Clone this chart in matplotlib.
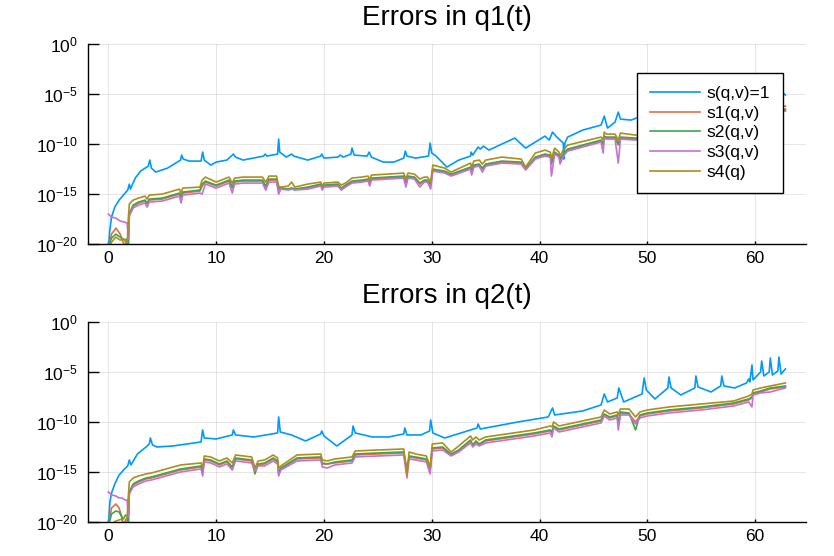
import numpy as np
import matplotlib
matplotlib.use("Agg")
import matplotlib.pyplot as plt

plt.rcParams['font.family'] = ['Liberation Sans', 'DejaVu Sans']
plt.rcParams['mathtext.fontset'] = 'custom'
plt.rcParams['mathtext.rm'] = 'Liberation Sans'
plt.rcParams['mathtext.it'] = 'Liberation Sans:italic'

labels = ["s(q,v)=1", "s1(q,v)", "s2(q,v)", "s3(q,v)", "s4(q)"]
colors = ["#009AFA", "#E36F47", "#3EA44E", "#C371D2", "#AC8E18"]

# ---- q1(t): values are log10 of the error ----
t_q1_blue = [0.0, 0.15, 0.3, 0.6, 1.0, 1.4, 1.8, 1.95, 2.05, 2.5, 3.0, 3.7, 3.85, 4.0, 4.4,
             5.5, 6.7, 6.8, 6.95, 7.5, 8.6, 8.75, 8.9, 9.5, 10.0, 11.0, 11.6, 11.8, 12.5,
             14.4, 14.55, 14.7, 15.7, 15.8, 15.9, 16.5, 17.0, 17.2, 18.5, 19.7, 19.8, 20.0,
             21.3, 21.5, 21.8, 22.5, 22.6, 22.8, 24.0, 24.2, 24.4, 25.5, 26.5, 27.4, 27.55,
             27.7, 28.5, 29.7, 29.85, 30.0, 30.4, 31.4, 32.5, 33.6, 33.65, 33.8, 34.3, 34.5,
             34.8, 35.3, 37.7, 38.7, 40.5, 40.9, 41.2, 41.6, 42.2, 42.25, 42.35, 42.6, 44.0,
             45.7, 46.0, 46.3, 47.0, 47.3, 47.5, 48.5, 49.2, 51.0, 54.0, 57.0, 60.0, 62.2,
             62.5, 62.8]
e_q1_blue = [-20.5, -18.5, -17.3, -16.3, -15.6, -15.1, -14.6, -14.0, -14.5, -13.4, -12.7, -12.2,
             -11.6, -12.4, -12.8, -12.4, -11.6, -11.1, -11.5, -11.7, -11.7, -10.8, -11.6, -12.1,
             -11.8, -11.6, -11.0, -11.3, -11.6, -11.2, -11.0, -11.2, -11.0, -9.5, -10.8, -11.3,
             -11.0, -11.2, -11.6, -11.2, -11.0, -11.4, -11.3, -11.1, -11.3, -11.0, -10.4, -11.1,
             -11.2, -10.8, -11.3, -11.8, -11.8, -11.4, -10.7, -11.2, -11.4, -11.2, -9.9, -10.9,
             -11.2, -12.3, -11.6, -11.2, -10.8, -11.1, -10.3, -10.5, -10.2, -10.6, -9.4, -10.4,
             -9.2, -9.6, -8.8, -9.3, -9.9, -11.5, -9.9, -9.3, -8.6, -8.1, -7.2, -8.4, -7.8,
             -6.8, -7.5, -7.6, -7.3, -6.8, -6.3, -5.9, -5.4, -5.3, -4.8, -5.1]

t_q1 = [0.0, 0.3, 0.7, 1.1, 1.5, 1.75, 1.85, 1.95,
        2.3, 2.8, 3.4, 3.6, 3.8,
        5.0, 6.6, 6.75, 6.9,
        8.5, 8.7, 9.0, 10.0,
        11.2, 11.5, 11.7, 12.5,
        14.3, 14.6, 14.9, 15.6,
        15.8, 16.0, 16.7, 17.0, 17.3,
        18.5, 19.7, 19.85, 20.0,
        21.3, 21.6, 22.0, 22.6,
        23.5, 24.1, 24.25, 24.4,
        27.4, 27.6, 27.8, 28.4,
        28.9, 29.3, 29.6, 29.9,
        30.1, 31.2, 31.8,
        33.6, 33.7, 33.9, 34.4, 34.7, 35.0,
        36.5, 38.3, 38.7, 39.6, 40.5,
        41.0, 41.1, 41.4, 41.8, 41.9, 42.2, 42.6,
        45.7, 45.9, 46.0, 46.2,
        47.0, 47.3, 47.5, 48.9,
        52.0, 55.0, 58.0, 60.0, 62.8]
e_q1_s1 = [-20.5, -19.0, -18.4, -19.0, -20.2, -19.6, -20.3, -17.0,
           -16.2, -15.9, -15.7, -16.0, -15.6,
           -15.5, -15.0, -15.3, -14.9,
           -14.7, -14.2, -13.8, -14.2,
           -13.7, -14.4, -13.8, -13.7,
           -13.7, -14.3, -13.6, -13.6,
           -14.6, -14.4, -14.5, -14.4, -14.5,
           -14.4, -14.1, -14.4, -14.2,
           -14.1, -14.5, -14.2, -13.8,
           -13.7, -13.6, -14.0, -13.5,
           -13.3, -13.9, -13.3, -13.4,
           -14.0, -13.7, -13.7, -14.1,
           -12.6, -12.8, -13.1,
           -12.4, -12.8, -12.2, -12.1, -12.5, -12.1,
           -11.8, -11.9, -12.5, -11.4, -11.1,
           -11.2, -12.0, -10.9, -11.2, -11.6, -11.1, -10.6,
           -9.7, -10.1, -9.3, -9.4,
           -9.4, -10.1, -9.4, -9.5,
           -8.7, -8.0, -7.4, -7.2, -6.6]
e_q1_s2 = [-20.3, -19.4, -19.0, -19.3, -19.6, -19.5, -20.5, -17.0,
           -16.1, -15.8, -15.6, -15.9, -15.5,
           -15.4, -14.9, -15.3, -14.8,
           -14.6, -14.0, -13.7, -14.1,
           -13.6, -14.3, -13.7, -13.6,
           -13.6, -14.2, -13.5, -13.5,
           -14.4, -14.4, -14.5, -14.4, -14.5,
           -14.3, -14.0, -14.3, -14.1,
           -14.0, -14.4, -14.1, -13.7,
           -13.6, -13.5, -13.9, -13.4,
           -13.2, -13.8, -13.2, -13.3,
           -13.9, -13.6, -13.6, -14.0,
           -12.5, -12.7, -13.0,
           -12.3, -12.7, -12.1, -12.0, -12.4, -12.0,
           -11.7, -11.8, -12.5, -11.3, -11.0,
           -11.1, -11.9, -10.8, -11.1, -11.5, -11.0, -10.5,
           -9.6, -10.0, -9.2, -9.3,
           -9.3, -10.0, -9.3, -9.4,
           -8.6, -7.9, -7.3, -7.1, -6.5]
e_q1_s3 = [-17.0, -17.3, -17.4, -17.7, -17.8, -17.9, -19.5, -17.2,
           -16.4, -16.1, -15.9, -16.3, -15.8,
           -15.7, -15.2, -15.9, -15.1,
           -14.9, -15.0, -14.0, -14.4,
           -13.9, -14.9, -14.0, -13.9,
           -13.9, -14.6, -13.8, -13.8,
           -15.0, -14.5, -14.6, -14.5, -14.6,
           -14.5, -14.2, -14.6, -14.3,
           -14.2, -14.6, -14.3, -13.9,
           -13.8, -13.7, -14.2, -13.6,
           -13.4, -14.3, -13.4, -13.5,
           -14.3, -13.8, -13.8, -14.5,
           -12.7, -12.9, -13.2,
           -12.5, -13.1, -12.3, -12.2, -12.8, -12.2,
           -11.9, -12.0, -12.6, -11.5, -11.2,
           -11.3, -13.2, -11.0, -11.3, -12.0, -11.2, -10.7,
           -9.8, -10.9, -9.4, -9.5,
           -9.5, -11.9, -9.5, -9.6,
           -8.8, -8.1, -7.5, -7.3, -6.7]
e_q1_s4 = [-20.5, -19.8, -19.3, -19.6, -19.5, -20.3, -17.5, -16.0,
           -15.6, -15.4, -15.2, -15.5, -15.1,
           -15.0, -14.5, -14.9, -14.4,
           -14.3, -13.6, -13.3, -13.8,
           -13.3, -13.9, -13.4, -13.3,
           -13.3, -13.8, -13.2, -13.2,
           -14.2, -14.3, -14.2, -13.8, -14.3,
           -14.0, -13.8, -14.2, -13.9,
           -13.8, -14.1, -13.9, -13.4,
           -13.3, -13.2, -13.6, -13.1,
           -12.9, -13.5, -12.9, -13.0,
           -13.5, -13.3, -13.3, -13.8,
           -12.1, -12.4, -12.8,
           -11.9, -12.3, -11.7, -11.6, -12.0, -11.6,
           -11.3, -11.5, -12.3, -10.9, -10.6,
           -10.8, -11.5, -10.4, -10.8, -11.2, -10.6, -10.1,
           -9.3, -9.6, -8.8, -9.0,
           -9.0, -9.6, -8.9, -9.1,
           -8.3, -7.6, -7.0, -6.8, -6.2]

# ---- q2(t) ----
t_q2_blue = [0.0, 0.15, 0.3, 0.6, 1.0, 1.5, 1.8, 1.95, 2.1, 2.7, 3.5, 3.8, 3.9, 4.1, 4.5,
             6.0, 8.6, 8.75, 8.9, 10.0, 11.5, 11.6, 11.8, 13.5, 15.7, 15.8, 15.95, 17.0,
             18.3, 19.7, 19.8, 20.0, 21.2, 22.6, 22.7, 22.9, 24.5, 26.0, 27.4, 27.5, 27.7,
             29.0, 29.8, 29.9, 30.1, 31.2, 33.0, 34.2, 34.3, 34.5, 38.0, 40.8, 41.2, 41.4,
             44.0, 45.7, 46.0, 46.3, 47.2, 47.35, 47.8, 49.5, 49.7, 49.9, 50.7, 51.9, 52.0,
             52.2, 53.1, 54.4, 54.5, 54.7, 55.9, 56.8, 56.9, 57.1, 58.1, 59.2, 59.4, 59.5,
             59.7, 59.8, 60.5, 60.6, 60.8, 61.3, 61.4, 61.6, 62.1, 62.2, 62.4, 62.8]
e_q2_blue = [-20.5, -18.0, -17.1, -16.2, -15.3, -14.7, -14.4, -13.8, -14.3, -13.2, -12.5, -12.2,
             -11.6, -12.3, -12.5, -12.4, -12.0, -10.8, -11.6, -11.7, -11.3, -10.8, -11.3, -11.5,
             -11.1, -9.5, -11.0, -11.3, -11.9, -11.2, -10.9, -11.4, -12.4, -11.3, -10.4, -11.1,
             -11.5, -11.5, -11.2, -10.6, -11.3, -11.3, -10.9, -9.8, -11.1, -11.6, -11.0, -10.6,
             -10.2, -10.7, -10.0, -9.5, -8.6, -9.3, -8.9, -8.3, -7.2, -8.0, -7.6, -6.6, -8.0,
             -7.2, -5.6, -6.8, -7.7, -6.6, -5.5, -6.6, -7.3, -6.6, -5.4, -6.5, -7.0, -6.4, -5.4,
             -6.4, -6.6, -6.1, -5.7, -6.0, -4.3, -5.8, -5.0, -3.9, -5.4, -5.0, -3.6, -5.3, -4.9,
             -3.5, -5.2, -4.7]

t_q2 = [0.0, 0.3, 0.7, 1.0, 1.25, 1.4, 1.6, 1.75, 1.85, 1.95,
        2.3, 2.8, 3.5, 4.0, 6.7,
        8.6, 8.75, 8.9, 9.5, 10.3,
        11.0, 11.5, 11.8, 13.3, 13.6, 13.9,
        14.5, 15.3, 15.7, 15.8, 16.0,
        17.5, 19.7, 19.85, 20.3, 21.0,
        22.6, 22.9, 25.0, 27.4, 27.7, 27.9,
        28.5, 29.5, 29.85, 30.05, 31.0, 31.8, 32.5,
        33.6, 33.8, 34.1, 34.4, 35.0,
        39.5, 41.0, 41.15, 41.3, 41.8,
        45.7, 46.0, 46.5, 47.2, 47.3, 47.5,
        48.3, 48.9, 49.3, 50.0, 52.0, 55.0,
        58.0, 59.4, 59.7, 59.8, 60.5, 61.4, 62.8]
e_q2_s1 = [-20.5, -18.6, -18.2, -18.6, -19.5, -20.6, -19.8, -19.6, -20.3, -17.0,
           -16.3, -16.0, -15.7, -15.6, -14.8,
           -14.5, -15.0, -13.8, -13.9, -14.3,
           -14.0, -14.6, -13.7, -13.9, -14.8, -14.3,
           -14.2, -13.7, -14.0, -14.9, -14.7,
           -13.7, -13.6, -14.2, -14.2, -14.1,
           -13.9, -13.3, -13.2, -13.1, -14.8, -13.5,
           -13.6, -13.8, -14.7, -12.7, -12.6, -13.3, -12.9,
           -11.9, -12.4, -12.0, -12.3, -11.9,
           -11.2, -10.9, -11.1, -10.5, -10.8,
           -9.9, -9.3, -9.6, -9.4, -10.3, -9.1,
           -9.2, -10.0, -9.4, -9.2, -8.9, -8.6,
           -8.2, -7.8, -7.6, -7.2, -7.0, -6.7, -6.5]
e_q2_s2 = [-20.5, -19.2, -18.9, -19.0, -19.5, -19.7, -19.3, -19.4, -20.5, -17.0,
           -16.2, -15.9, -15.6, -15.5, -14.7,
           -14.4, -14.9, -13.7, -13.8, -14.2,
           -13.9, -14.5, -13.6, -13.8, -15.2, -14.2,
           -14.1, -13.6, -13.9, -15.2, -14.6,
           -13.6, -13.5, -14.1, -14.2, -14.0,
           -13.8, -13.2, -13.1, -13.0, -14.9, -13.4,
           -13.5, -13.7, -14.7, -12.6, -12.5, -13.2, -12.8,
           -11.8, -12.3, -11.9, -12.2, -11.8,
           -11.1, -10.8, -11.0, -10.4, -10.7,
           -9.8, -9.2, -9.5, -9.3, -10.2, -9.0,
           -9.1, -10.8, -9.3, -9.1, -8.8, -8.5,
           -8.1, -7.7, -7.5, -7.1, -6.9, -6.6, -6.4]
e_q2_s3 = [-17.0, -17.3, -17.4, -17.6, -17.6, -17.7, -17.8, -17.8, -19.5, -17.2,
           -16.5, -16.2, -15.9, -15.8, -15.0,
           -14.7, -15.4, -14.0, -14.1, -14.5,
           -14.2, -14.8, -13.9, -14.1, -14.9, -14.4,
           -14.4, -13.9, -14.2, -15.4, -14.8,
           -13.9, -13.8, -14.5, -14.6, -14.3,
           -14.1, -13.5, -13.4, -13.3, -15.6, -13.7,
           -13.8, -14.0, -15.2, -12.9, -12.8, -13.4, -13.0,
           -12.1, -12.5, -12.2, -12.4, -12.1,
           -11.4, -11.1, -11.5, -10.6, -11.0,
           -10.1, -9.4, -9.8, -9.6, -10.8, -9.3,
           -9.3, -10.2, -9.6, -9.4, -9.1, -8.8,
           -8.4, -8.0, -8.5, -7.3, -7.1, -7.0, -6.6]
e_q2_s4 = [-20.5, -20.2, -19.9, -19.8, -19.7, -20.2, -19.9, -19.6, -17.5, -16.0,
           -15.6, -15.4, -15.2, -15.1, -14.3,
           -14.1, -14.6, -13.4, -13.5, -13.9,
           -13.6, -14.1, -13.3, -13.5, -14.6, -13.9,
           -13.8, -13.3, -13.6, -14.6, -14.4,
           -13.3, -13.2, -13.8, -13.9, -13.7,
           -13.5, -12.9, -12.8, -12.7, -15.3, -13.0,
           -13.2, -13.4, -14.5, -12.2, -12.1, -13.0, -12.4,
           -11.4, -11.8, -11.5, -11.8, -11.5,
           -10.8, -10.4, -10.5, -10.0, -10.4,
           -9.5, -8.8, -9.2, -9.0, -9.3, -8.7,
           -8.7, -9.5, -9.0, -8.8, -8.5, -8.2,
           -7.9, -7.4, -7.2, -6.8, -6.6, -6.4, -6.1]

yticks = [1e-20, 1e-15, 1e-10, 1e-5, 1e0]
ytick_labels = [r"$\mathregular{10^{-20}}$", r"$\mathregular{10^{-15}}$",
                r"$\mathregular{10^{-10}}$", r"$\mathregular{10^{-5}}$",
                r"$\mathregular{10^{0}}$"]
xticks = [0, 10, 20, 30, 40, 50, 60]


def draw_panel(ax, title, series):
    for (t, e), lab, col in zip(series, labels, colors):
        ax.plot(t, 10.0 ** np.asarray(e), color=col, lw=1.2, label=lab)
    ax.set_yscale('log')
    ax.set_ylim(1e-20, 1e0)
    ax.set_xlim(-1.885, 64.717)
    ax.set_yticks(yticks)
    ax.set_yticklabels(ytick_labels)
    ax.yaxis.set_minor_locator(matplotlib.ticker.NullLocator())
    ax.set_xticks(xticks)
    ax.grid(True, color='k', alpha=0.1, lw=0.7)
    ax.set_axisbelow(True)
    for s in ['top', 'right']:
        ax.spines[s].set_visible(False)
    for s in ['left', 'bottom']:
        ax.spines[s].set_linewidth(1.0)
    ax.tick_params(axis='y', direction='in', length=8, width=1.0, labelsize=12.5, pad=7.5)
    ax.tick_params(axis='x', direction='in', length=2.5, width=1.0, labelsize=12.5, pad=5)
    ax.set_title(title, fontsize=20, pad=14)


fig = plt.figure(figsize=(8.34, 5.56), dpi=100)
ax1 = fig.add_axes([0.1055, 0.561, 0.861, 0.3597])
ax2 = fig.add_axes([0.1055, 0.0612, 0.861, 0.3597])

draw_panel(ax1, "Errors in q1(t)",
           [(t_q1_blue, e_q1_blue), (t_q1, e_q1_s1), (t_q1, e_q1_s2),
            (t_q1, e_q1_s3), (t_q1, e_q1_s4)])
draw_panel(ax2, "Errors in q2(t)",
           [(t_q2_blue, e_q2_blue), (t_q2, e_q2_s1), (t_q2, e_q2_s2),
            (t_q2, e_q2_s3), (t_q2, e_q2_s4)])

leg = ax1.legend(loc='upper left', bbox_to_anchor=(0.7646, 0.855), borderaxespad=0,
                 fontsize=12.5, frameon=True, fancybox=False, framealpha=1,
                 edgecolor='k', handlelength=2.9, handletextpad=0.4,
                 labelspacing=0.27, borderpad=0.72)
leg.get_frame().set_linewidth(1.0)

fig.savefig("out.png", dpi=100)
